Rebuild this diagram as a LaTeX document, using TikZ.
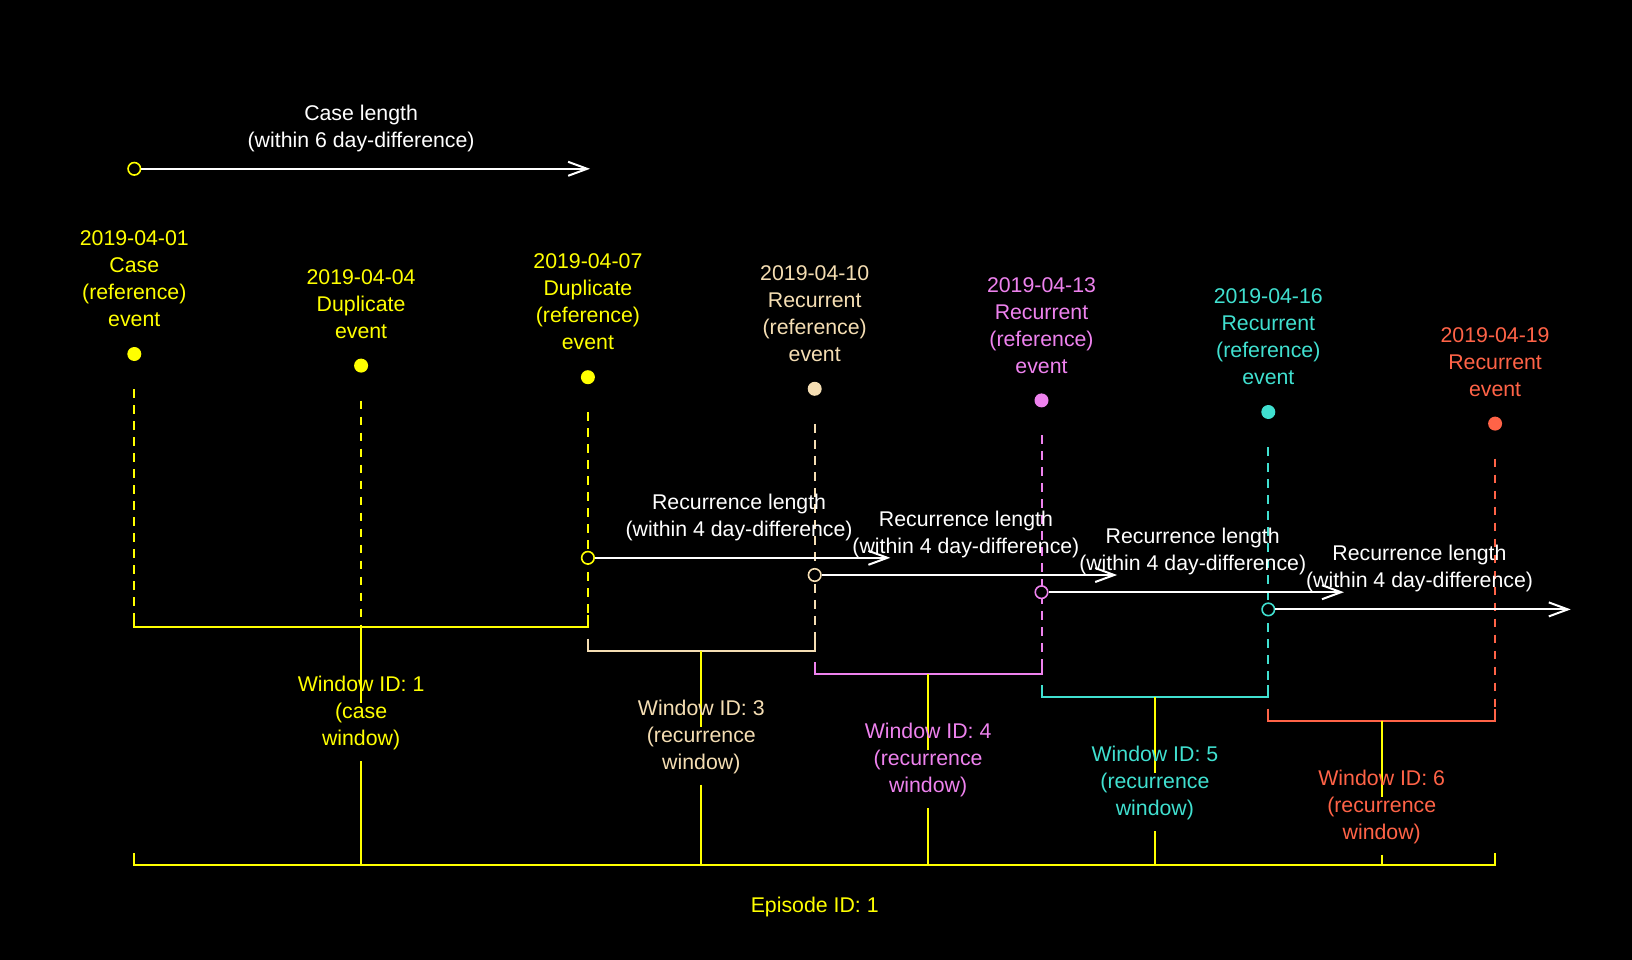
\documentclass[tikz,border=0pt]{standalone}
\usepackage{fontspec}
\setmainfont{Liberation Sans}
\usetikzlibrary{arrows.meta}
\definecolor{cyel}{HTML}{FFFF00}
\definecolor{cwheat}{HTML}{F5DEB3}
\definecolor{cviolet}{HTML}{EE82EE}
\definecolor{cturq}{HTML}{40E0D0}
\definecolor{ctomato}{HTML}{FF6347}
\begin{document}
\begin{tikzpicture}[x=1pt,y=-1pt,line width=2pt,
  lbl/.style={font=\fontsize{21.3}{27}\selectfont, align=center, inner sep=0pt},
  dotnode/.style={circle, fill=#1, minimum size=14pt, inner sep=0pt},
  ring/.style={circle, draw=#1, fill=black, line width=1.6pt, minimum size=12.5pt, inner sep=0pt},
  evline/.style={draw=#1, dash pattern=on 8.7pt off 7.3pt},
  lenarrow/.style={draw=white, -{Straight Barb[length=19pt,width=14pt]}},
  bracket/.style={draw=#1}]
\fill[black] (0,0) rectangle (1632,960);
\useasboundingbox (0,0) rectangle (1632,960);

% event dots
\node[dotnode=cyel]    (e1) at (134.3,354.0) {};
\node[dotnode=cyel]    (e2) at (361.1,365.6) {};
\node[dotnode=cyel]    (e3) at (587.9,377.2) {};
\node[dotnode=cwheat]  (e4) at (814.7,388.8) {};
\node[dotnode=cviolet] (e5) at (1041.5,400.4) {};
\node[dotnode=cturq]   (e6) at (1268.3,412.0) {};
\node[dotnode=ctomato] (e7) at (1495.1,423.6) {};

% event labels
\node[lbl,text=cyel,anchor=south]    (t1) at ([yshift=18.3pt]e1.center) {\strut 2019-04-01\\\strut Case\\\strut (reference)\\\strut event};
\node[lbl,text=cyel,anchor=south]    (t2) at ([yshift=18.3pt]e2.center) {\strut 2019-04-04\\\strut Duplicate\\\strut event};
\node[lbl,text=cyel,anchor=south]    (t3) at ([yshift=18.3pt]e3.center) {\strut 2019-04-07\\\strut Duplicate\\\strut (reference)\\\strut event};
\node[lbl,text=cwheat,anchor=south]  (t4) at ([yshift=18.3pt]e4.center) {\strut 2019-04-10\\\strut Recurrent\\\strut (reference)\\\strut event};
\node[lbl,text=cviolet,anchor=south] (t5) at ([yshift=18.3pt]e5.center) {\strut 2019-04-13\\\strut Recurrent\\\strut (reference)\\\strut event};
\node[lbl,text=cturq,anchor=south]   (t6) at ([yshift=18.3pt]e6.center) {\strut 2019-04-16\\\strut Recurrent\\\strut (reference)\\\strut event};
\node[lbl,text=ctomato,anchor=south] (t7) at ([yshift=18.3pt]e7.center) {\strut 2019-04-19\\\strut Recurrent\\\strut event};

% bracket coordinates
\coordinate (w1a) at (134.3,627.0);  \coordinate (w1m) at (361.1,627.0);  \coordinate (w1b) at (587.9,627.0);
\coordinate (w3a) at (587.9,650.5);  \coordinate (w3m) at (701.3,650.5);  \coordinate (w3b) at (814.7,650.5);
\coordinate (w4a) at (814.7,674.0);  \coordinate (w4m) at (928.1,674.0);  \coordinate (w4b) at (1041.5,674.0);
\coordinate (w5a) at (1041.5,697.3); \coordinate (w5m) at (1154.9,697.3); \coordinate (w5b) at (1268.3,697.3);
\coordinate (w6a) at (1268.3,720.7); \coordinate (w6m) at (1381.7,720.7); \coordinate (w6b) at (1495.1,720.7);
\coordinate (epa) at (134.3,865.0);  \coordinate (epm) at (814.7,865.0);  \coordinate (epb) at (1495.1,865.0);

% dashed event lines
\draw[evline=cyel]    ([yshift=-35pt]e1.center) -- (w1a);
\draw[evline=cyel]    ([yshift=-35pt]e2.center) -- (w1m);
\draw[evline=cyel]    ([yshift=-35pt]e3.center) -- (w1b);
\draw[evline=cwheat]  ([yshift=-35pt]e4.center) -- (w3b);
\draw[evline=cviolet] ([yshift=-35pt]e5.center) -- (w4b);
\draw[evline=cturq]   ([yshift=-35pt]e6.center) -- (w5b);
\draw[evline=ctomato] ([yshift=-35pt]e7.center) -- (w6b);

% window brackets
\draw[bracket=cyel]    ([yshift=12pt]w1a) -- (w1a) -- (w1b) -- ([yshift=12pt]w1b);
\draw[bracket=cwheat]  ([yshift=12pt]w3a) -- (w3a) -- (w3b) -- ([yshift=12pt]w3b);
\draw[bracket=cviolet] ([yshift=12pt]w4a) -- (w4a) -- (w4b) -- ([yshift=12pt]w4b);
\draw[bracket=cturq]   ([yshift=12pt]w5a) -- (w5a) -- (w5b) -- ([yshift=12pt]w5b);
\draw[bracket=ctomato] ([yshift=12pt]w6a) -- (w6a) -- (w6b) -- ([yshift=12pt]w6b);

% episode bracket
\draw[bracket=cyel] ([yshift=12pt]epa) -- (epa) -- (epb) -- ([yshift=12pt]epb);

% window connectors and labels
\foreach \w in {w1m,w3m,w4m,w5m,w6m}{
  \draw[cyel] (\w) -- ([yshift=-76pt]\w);
  \draw[cyel] ([yshift=-134pt]\w) -- (\w |- epa);
}
\node[lbl,text=cyel,anchor=north]    (wl1) at ([yshift=-44.7pt]w1m) {\strut Window ID: 1\\\strut (case\\\strut window)};
\node[lbl,text=cwheat,anchor=north]  (wl3) at ([yshift=-44.7pt]w3m) {\strut Window ID: 3\\\strut (recurrence\\\strut window)};
\node[lbl,text=cviolet,anchor=north] (wl4) at ([yshift=-44.7pt]w4m) {\strut Window ID: 4\\\strut (recurrence\\\strut window)};
\node[lbl,text=cturq,anchor=north]   (wl5) at ([yshift=-44.7pt]w5m) {\strut Window ID: 5\\\strut (recurrence\\\strut window)};
\node[lbl,text=ctomato,anchor=north] (wl6) at ([yshift=-44.7pt]w6m) {\strut Window ID: 6\\\strut (recurrence\\\strut window)};

\node[lbl,text=cyel,anchor=north] (eplab) at ([yshift=-27.7pt]epm) {\strut Episode ID: 1};

% case length arrow
\node[ring=cyel] (c0) at (134.3,168.8) {};
\coordinate (c0e) at (590.0,168.8);
\draw[lenarrow] (c0) -- (c0e);
\node[lbl,text=white,anchor=south] (cl) at (361.1,156.3) {\strut Case length\\\strut (within 6 day-difference)};

% recurrence length arrows
\node[ring=cyel]    (r1) at (587.9,557.8) {};
\node[ring=cwheat]  (r2) at (814.7,575.0) {};
\node[ring=cviolet] (r3) at (1041.5,592.2) {};
\node[ring=cturq]   (r4) at (1268.3,609.4) {};
\coordinate (r1e) at (890.3,557.8);
\coordinate (r2e) at (1117.1,575.0);
\coordinate (r3e) at (1343.9,592.2);
\coordinate (r4e) at (1570.7,609.4);
\draw[lenarrow] (r1) -- (r1e);
\draw[lenarrow] (r2) -- (r2e);
\draw[lenarrow] (r3) -- (r3e);
\draw[lenarrow] (r4) -- (r4e);
\node[lbl,text=white,anchor=south] (rl1) at (739.1,545.3)  {\strut Recurrence length\\\strut (within 4 day-difference)};
\node[lbl,text=white,anchor=south] (rl2) at (965.9,562.5)  {\strut Recurrence length\\\strut (within 4 day-difference)};
\node[lbl,text=white,anchor=south] (rl3) at (1192.7,579.7) {\strut Recurrence length\\\strut (within 4 day-difference)};
\node[lbl,text=white,anchor=south] (rl4) at (1419.5,596.9) {\strut Recurrence length\\\strut (within 4 day-difference)};
\end{tikzpicture}
\end{document}
